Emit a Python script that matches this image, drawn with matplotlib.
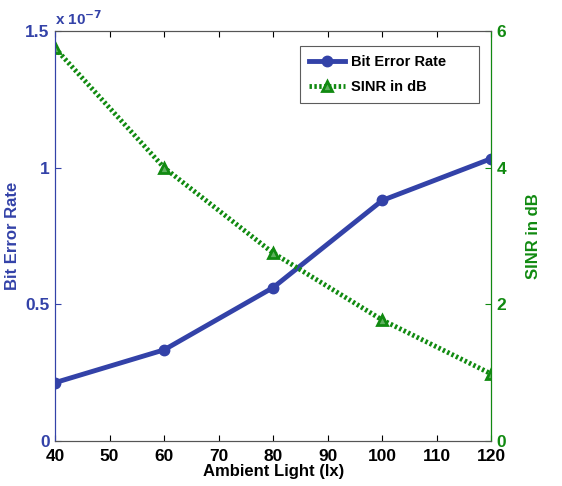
import matplotlib
matplotlib.use("Agg")
import matplotlib.pyplot as plt

plt.rcParams['font.family'] = ['Liberation Sans', 'DejaVu Sans']
plt.rcParams['font.weight'] = 'bold'

# data
light = [40, 60, 80, 100, 120]
ber = [0.213, 0.333, 0.561, 0.88, 1.033]   # x 1e-7
sinr = [5.75, 4.0, 2.75, 1.77, 0.98]

blue = '#3342a8'
green = '#118a11'

fig = plt.figure(figsize=(5.62, 4.86), dpi=100)
ax = fig.add_axes([0.098, 0.093, 0.776, 0.843])
ax2 = ax.twinx()

l1, = ax.plot(light, ber, '-o', color=blue, lw=3.5, ms=7.5, mfc=blue, mec=blue,
              label='Bit Error Rate')
l2, = ax2.plot(light, sinr, '^', color=green, ls=(0, (0.5, 0.5)), lw=3.5, ms=7.5,
               mfc='#5fb05f', mec=green, mew=2, label='SINR in dB')

ax.set_xlim(40, 120)
ax.set_ylim(0, 1.5)
ax2.set_ylim(0, 6)
ax.set_xticks(range(40, 121, 10))
ax.set_yticks([0, 0.5, 1, 1.5])
ax.set_yticklabels(['0', '0.5', '1', '1.5'])
ax2.set_yticks([0, 2, 4, 6])

ax.tick_params(axis='x', direction='in', top=True, labelsize=12.5, length=4, pad=6)
ax.tick_params(axis='y', direction='in', colors=blue, labelsize=12.5, length=4, pad=4)
ax2.tick_params(axis='y', direction='in', colors=green, labelsize=12.5, length=4, pad=4)

ax.spines['left'].set_color(blue)
ax2.spines['left'].set_color(blue)
ax2.spines['right'].set_color(green)
for a in (ax, ax2):
    a.spines['top'].set_color('#555555')
    a.spines['bottom'].set_color('#555555')

ax.set_xlabel('Ambient Light (lx)', fontsize=12, fontweight='bold', labelpad=0)
ax.set_ylabel('Bit Error Rate', fontsize=12, fontweight='bold', color=blue, labelpad=4)
ax2.set_ylabel('SINR in dB', fontsize=12, fontweight='bold', color=green, labelpad=14)
ax.text(0.0, 1.008, r'x 10$^{-7}$', transform=ax.transAxes, color=blue,
        fontsize=11, fontweight='bold', ha='left', va='bottom')

leg = ax2.legend([l1, l2], ['Bit Error Rate', 'SINR in dB'], loc='upper left',
                 bbox_to_anchor=(0.562, 0.963 - 0.137, 0.411, 0.137), mode='expand',
                 borderaxespad=0, fancybox=False, edgecolor='#333333',
                 fontsize=10.5, handlelength=2.5, borderpad=0.6, labelspacing=0.75,
                 handletextpad=0.4)
leg.get_frame().set_linewidth(0.8)

fig.savefig('out.png', dpi=100)
